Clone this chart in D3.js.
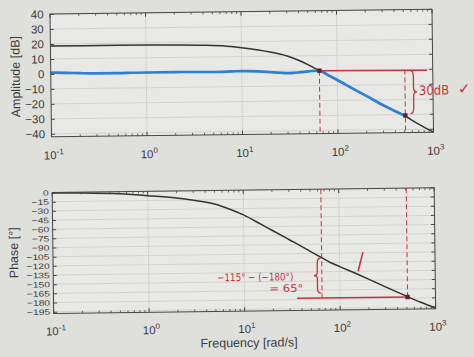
<!DOCTYPE html>
<html><head><meta charset="utf-8">
<script src="https://cdn.jsdelivr.net/npm/d3@7"></script>
<style>html,body{margin:0;padding:0;background:#dfdfdc;} svg{display:block}</style>
</head><body><svg id="c" width="474" height="357"></svg>
<script>
// ---- data ----
const gainFreq = [0.1,0.5,1,2,4,7,10,15,20,30,40,50,65,80,100,150,200,300,500,700,1000];
const gainDb   = [18.6,18.6,18.5,18.3,17.9,17.1,16.0,14.3,12.8,10.0,6.9,3.9,0,-3.2,-6.6,-13.0,-17.4,-23.8,-30.8,-36.5,-42];
const measFreq = [0.1,0.15,0.2,0.3,0.5,0.7,1,2,3,5,8,10,15,20,25,30,35,40,50,65,80,100,150,200,300,400,500];
const measDb   = [0.9,0.6,0.3,0,0,0.1,0.2,0.2,0.1,0,0.2,0.3,0,-0.6,-1.1,-1.4,-1.3,-1.0,-0.4,0.2,-3.0,-6.4,-12.8,-17.2,-23.6,-27.7,-30.6];
const phaseFreq = [0.1,0.2,0.5,1,2,3,5,7,10,15,20,30,40,50,65,80,100,150,200,300,500,700,1000];
const phaseDeg  = [-0.7,-1.4,-3.5,-7,-11.5,-15.5,-22,-30,-40.5,-55.5,-66.5,-82,-93,-102,-112,-120,-127,-139,-148,-161,-177,-187,-196.5];

const ampTicks = [40,30,20,10,0,-10,-20,-30,-40];
const phaseTicks = [0,-15,-30,-45,-60,-75,-90,-105,-120,-135,-150,-165,-180,-195];
const decades = [0.1,1,10,100,1000];
const decadeExp = ["-1","0","1","2","3"];
const minorMult = [2,3,4,5,6,7,8,9];

// handwritten annotation anchors (data space)
const crossFreq = 65, crossDb = 0;
const pcFreq = 510, pcDb = -30.6, pcPhase = -177;
const lineEndFreq = 870;
const phaseLineStart = 35.5;

// ---- layout ----
const W = 474, H = 357;
const svg = d3.select("#c");
svg.append("rect").attr("width",W).attr("height",H).attr("fill","#dfdfdc");
const g = svg.append("g").attr("transform","rotate(-0.7,242,175)");

const x = d3.scaleLog().domain([0.1,1000]).range([52,434]);
const yA = d3.scaleLinear().domain([-42,40]).range([134.5,11.7]);
const yP = d3.scaleLinear().domain([-198,0]).range([311.2,190.2]);

const gridC = "#cdcdca", frameC = "#454545", txtC = "#3c3c3c";
const red = "#c9323e";
const ff = "Liberation Sans, Arial, sans-serif";

function panel(y, ticks) {
  const [y0,y1] = [y.range()[1], y.range()[0]];
  const [xl,xr] = x.range();
  g.append("rect").attr("x",xl).attr("y",y0).attr("width",xr-xl).attr("height",y1-y0).attr("fill","#e8e8e5");
  g.append("g").selectAll("line").data(ticks).join("line")
    .attr("x1",xl).attr("x2",xr).attr("y1",d=>y(d)).attr("y2",d=>y(d))
    .attr("stroke",gridC).attr("stroke-width",0.8);
  g.append("g").selectAll("line").data(decades.slice(1,-1)).join("line")
    .attr("x1",d=>x(d)).attr("x2",d=>x(d)).attr("y1",y0).attr("y2",y1)
    .attr("stroke",gridC).attr("stroke-width",0.8);
}
function frame(y, ticks, pad, fs, stretch, labelY) {
  const [y0,y1] = [y.range()[1], y.range()[0]];
  const [xl,xr] = x.range();
  g.append("rect").attr("x",xl).attr("y",y0).attr("width",xr-xl).attr("height",y1-y0)
    .attr("fill","none").attr("stroke",frameC).attr("stroke-width",1);
  const la = g.append("g").attr("transform",`translate(${xl},0)`)
    .call(d3.axisLeft(y).tickValues(ticks).tickSize(-3.5).tickPadding(pad));
  la.select(".domain").remove();
  la.selectAll("line").attr("stroke",frameC);
  la.selectAll("text").attr("fill",txtC).attr("font-size",fs).attr("font-family",ff)
    .each(function(){ if (stretch !== 1) {
      const w = this.getComputedTextLength();
      d3.select(this).attr("textLength", w*stretch).attr("lengthAdjust","spacingAndGlyphs"); } });
  g.append("g").selectAll("line").data(ticks).join("line")
    .attr("x1",xr).attr("x2",xr-3.5).attr("y1",d=>y(d)).attr("y2",d=>y(d)).attr("stroke",frameC);
  const minors = [];
  decades.slice(0,-1).forEach(d=>minorMult.forEach(m=>minors.push(d*m)));
  [[y1,-1],[y0,1]].forEach(([yy,s])=>{
    g.append("g").selectAll("line").data(decades).join("line")
      .attr("x1",d=>x(d)).attr("x2",d=>x(d)).attr("y1",yy).attr("y2",yy+s*4).attr("stroke",frameC);
    g.append("g").selectAll("line").data(minors).join("line")
      .attr("x1",d=>x(d)).attr("x2",d=>x(d)).attr("y1",yy).attr("y2",yy+s*2.2).attr("stroke",frameC).attr("stroke-width",0.8);
  });
  const xt = g.append("g").selectAll("text").data(decades).join("text")
    .attr("x",d=>x(d)+2).attr("y",labelY).attr("text-anchor","middle")
    .attr("fill",txtC).attr("font-size",11.5).attr("font-family",ff);
  xt.append("tspan").text("10");
  xt.append("tspan").attr("dy",-5).attr("font-size",8).text((d,i)=>decadeExp[i]);
}

panel(yA, ampTicks);
panel(yP, phaseTicks);

const gainPts = gainFreq.map((f,i)=>[f,gainDb[i]]);
const measPts = measFreq.map((f,i)=>[f,measDb[i]]);
const phasePts = phaseFreq.map((f,i)=>[f,phaseDeg[i]]);
const lineA = d3.line().x(d=>x(d[0])).y(d=>yA(d[1])).curve(d3.curveMonotoneX);
const lineP = d3.line().x(d=>x(d[0])).y(d=>yP(d[1])).curve(d3.curveMonotoneX);

[crossFreq,pcFreq].forEach(f=>{
  g.append("line").attr("x1",x(f)).attr("x2",x(f)).attr("y1",yA(crossDb)).attr("y2",yA(-42))
    .attr("stroke",red).attr("stroke-width",1).attr("stroke-dasharray","5,3");
  g.append("line").attr("x1",x(f)).attr("x2",x(f)).attr("y1",yP(0)).attr("y2",yP(pcPhase-1))
    .attr("stroke",red).attr("stroke-width",1).attr("stroke-dasharray","5,3");
});

g.append("path").attr("d",lineA(gainPts)).attr("fill","none").attr("stroke","#333").attr("stroke-width",1.5);
g.append("path").attr("d",lineA(measPts)).attr("fill","none").attr("stroke","#2f80d2").attr("stroke-width",2.6);
g.append("path").attr("d",lineP(phasePts)).attr("fill","none").attr("stroke","#333").attr("stroke-width",1.5);

frame(yA, ampTicks, 6.5, 11.5, 1, 157);
frame(yP, phaseTicks, 3.5, 7.9, 1.3, 333);

g.append("text").attr("transform","translate(21,74) rotate(-90)").attr("text-anchor","middle")
  .attr("font-size",12.5).attr("font-family",ff).attr("fill",txtC).text("Amplitude [dB]");
g.append("text").attr("transform","translate(17,250) rotate(-90)").attr("text-anchor","middle")
  .attr("font-size",12.5).attr("font-family",ff).attr("fill",txtC).text("Phase [°]");
g.append("text").attr("x",247).attr("y",347).attr("text-anchor","middle")
  .attr("font-size",12.5).attr("font-family",ff).attr("fill",txtC).text("Frequency [rad/s]");

// ---- handwritten annotations ----
const hf = "DejaVu Sans, sans-serif";
g.append("line").attr("x1",x(crossFreq)).attr("x2",x(lineEndFreq)).attr("y1",yA(crossDb)).attr("y2",yA(-0.6))
  .attr("stroke",red).attr("stroke-width",1.5);
g.append("line").attr("x1",x(phaseLineStart)).attr("x2",x(pcFreq)+2).attr("y1",yP(pcPhase-1)).attr("y2",yP(pcPhase-1.3))
  .attr("stroke",red).attr("stroke-width",1.5);

function brace(x0, ya, yb, w) {
  const h = yb-ya, ym = (ya+yb)/2, xm = x0 + w*0.5, xt = x0 + w;
  return `M${x0},${ya} Q${xm},${ya} ${xm},${ya+h*0.15} L${xm},${ym-h*0.1} Q${xm},${ym} ${xt},${ym}`+
         ` Q${xm},${ym} ${xm},${ym+h*0.1} L${xm},${yb-h*0.15} Q${xm},${yb} ${x0},${yb}`;
}
g.append("path").attr("d",brace(x(pcFreq)+5, yA(-0.5), yA(-29.5), 7))
  .attr("fill","none").attr("stroke",red).attr("stroke-width",1.3);
g.append("path").attr("d",brace(x(crossFreq)-1, yP(-112.5), yP(-170), -7))
  .attr("fill","none").attr("stroke",red).attr("stroke-width",1.3);

g.append("text").attr("x",x(pcFreq)+14).attr("y",yA(-17)).attr("font-size",13).attr("font-family",hf)
  .attr("fill",red).attr("textLength",30).attr("lengthAdjust","spacingAndGlyphs").text("30dB");
g.append("text").attr("x",x(pcFreq)+53).attr("y",yA(-16.5)).attr("font-size",15).attr("font-family",hf)
  .attr("fill",red).text("✓");
g.append("text").attr("x",216).attr("y",yP(-148.5)).attr("font-size",10.5).attr("font-family",hf)
  .attr("fill",red).attr("textLength",76).attr("lengthAdjust","spacingAndGlyphs").text("−115° − (−180°)");
g.append("text").attr("x",268).attr("y",yP(-167.5)).attr("font-size",10.5).attr("font-family",hf)
  .attr("fill",red).attr("textLength",34).attr("lengthAdjust","spacingAndGlyphs").text("= 65°");
g.append("line").attr("x1",x(176)).attr("x2",x(156)).attr("y1",yP(-104)).attr("y2",yP(-135))
  .attr("stroke",red).attr("stroke-width",1.5);

[[x(crossFreq),yA(crossDb)],[x(pcFreq),yA(pcDb)],[x(pcFreq),yP(pcPhase-1)]].forEach(([px,py])=>{
  g.append("rect").attr("x",px-2.2).attr("y",py-2.2).attr("width",4.4).attr("height",4.4).attr("fill","#6d1d28");
});
</script></body></html>
